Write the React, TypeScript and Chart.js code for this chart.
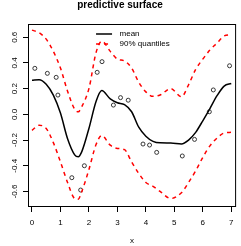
import React, { useEffect, useRef } from "react";
import { Chart, registerables } from "chart.js";

Chart.register(...registerables);

const titleText = "predictive surface";
const xTitle = "x";
const legendLabels = ["mean", "90% quantiles"];

const xGrid = [0, 0.25, 0.5, 0.75, 1, 1.25, 1.5, 1.625, 1.75, 2, 2.25, 2.45, 2.75, 3, 3.25, 3.5, 3.75, 4, 4.25, 4.5, 4.875, 5.25, 5.5, 5.75, 6, 6.25, 6.5, 6.75, 7];
const meanY = [0.265, 0.27, 0.235, 0.15, 0.01, -0.19, -0.315, -0.33, -0.29, -0.11, 0.1, 0.185, 0.12, 0.09, 0.075, 0.02, -0.1, -0.17, -0.21, -0.222, -0.223, -0.23, -0.2, -0.14, -0.05, 0.045, 0.145, 0.22, 0.24];
const upperY = [0.655, 0.635, 0.585, 0.49, 0.36, 0.18, 0.04, 0.02, 0.06, 0.2, 0.48, 0.57, 0.49, 0.43, 0.415, 0.36, 0.25, 0.175, 0.14, 0.15, 0.2, 0.137, 0.23, 0.35, 0.43, 0.5, 0.555, 0.61, 0.62];
const lowerY = [-0.125, -0.085, -0.11, -0.22, -0.37, -0.53, -0.655, -0.66, -0.6, -0.43, -0.235, -0.165, -0.24, -0.265, -0.275, -0.37, -0.46, -0.53, -0.56, -0.6, -0.655, -0.61, -0.53, -0.44, -0.335, -0.245, -0.185, -0.145, -0.14];

const obsX = [0.1, 0.54, 0.85, 0.91, 1.4, 1.71, 1.84, 2.29, 2.46, 2.86, 3.11, 3.38, 3.9, 4.13, 4.38, 5.28, 5.71, 6.23, 6.37, 6.94];
const obsY = [0.358, 0.319, 0.288, 0.15, -0.493, -0.589, -0.4, 0.327, 0.41, 0.072, 0.13, 0.11, -0.231, -0.239, -0.296, -0.324, -0.195, 0.02, 0.19, 0.378];

const xTicks = [0, 1, 2, 3, 4, 5, 6, 7];
const yTicks = [-0.6, -0.4, -0.2, 0, 0.2, 0.4, 0.6];

const FONT = '"Liberation Sans", Arial, Helvetica, sans-serif';

const fmtY = (v: number) => (Math.round(v * 10) / 10).toFixed(1);

const rPlugin = {
  id: "rstyle",
  afterDraw(chart: any) {
    const { ctx, chartArea } = chart;
    const { left, right, top, bottom } = chartArea;
    ctx.save();
    ctx.strokeStyle = "#000";
    ctx.lineWidth = 1;
    ctx.setLineDash([]);
    ctx.strokeRect(left + 0.5, top + 0.5, right - left - 1, bottom - top - 1);
    const ys = chart.scales.y;
    ctx.fillStyle = "#000";
    ctx.font = `8px ${FONT}`;
    ctx.textAlign = "center";
    ctx.textBaseline = "middle";
    ys.ticks.forEach((t: any) => {
      const py = ys.getPixelForValue(t.value);
      ctx.save();
      ctx.translate(ys.right - 13.5, py);
      ctx.rotate(-Math.PI / 2);
      ctx.fillText(fmtY(t.value), 0, 0);
      ctx.restore();
    });
    const cx = (left + right) / 2;
    const x0 = cx - 36;
    const rows = [top + 10, top + 20];
    const ds = chart.data.datasets;
    legendLabels.forEach((lab, i) => {
      const d = ds[i];
      const y = rows[i];
      ctx.strokeStyle = d.borderColor;
      ctx.lineWidth = d.borderWidth;
      ctx.setLineDash(d.borderDash || []);
      ctx.beginPath();
      ctx.moveTo(x0, y);
      ctx.lineTo(x0 + 16, y);
      ctx.stroke();
      ctx.setLineDash([]);
      ctx.fillStyle = "#000";
      ctx.textAlign = "left";
      ctx.textBaseline = "middle";
      ctx.fillText(lab, x0 + 23.5, y);
    });
    ctx.restore();
  },
};

export default function App() {
  const ref = useRef<HTMLCanvasElement | null>(null);
  useEffect(() => {
    document.body.style.margin = "0";
    const canvas = ref.current;
    if (!canvas) return;
    const toPts = (ys: number[]) => xGrid.map((x, i) => ({ x, y: ys[i] }));
    const chart = new Chart(canvas, {
      type: "scatter",
      data: {
        datasets: [
          {
            label: "mean",
            data: toPts(meanY),
            showLine: true,
            borderColor: "#000",
            borderWidth: 1.5,
            pointRadius: 0,
            cubicInterpolationMode: "monotone",
            fill: false,
          },
          {
            label: "90% quantiles",
            data: toPts(upperY),
            showLine: true,
            borderColor: "#ff0000",
            borderWidth: 1.5,
            borderDash: [4, 4],
            pointRadius: 0,
            cubicInterpolationMode: "monotone",
            fill: false,
          },
          {
            label: "lower",
            data: toPts(lowerY),
            showLine: true,
            borderColor: "#ff0000",
            borderWidth: 1.5,
            borderDash: [4, 4],
            pointRadius: 0,
            cubicInterpolationMode: "monotone",
            fill: false,
          },
          {
            label: "obs",
            data: obsX.map((x, i) => ({ x, y: obsY[i] })),
            showLine: false,
            pointRadius: 2,
            pointBorderWidth: 0.9,
            pointBorderColor: "#222",
            pointBackgroundColor: "rgba(0,0,0,0)",
          },
        ],
      } as any,
      options: {
        animation: false,
        responsive: false,
        devicePixelRatio: 1,
        layout: { padding: { left: 0, right: 1, top: 0, bottom: 0 } },
        plugins: {
          legend: { display: false },
          tooltip: { enabled: false },
          title: {
            display: true,
            text: titleText,
            color: "#000",
            font: { family: FONT, size: 10, weight: "bold", lineHeight: 1.0 },
            padding: { top: 0, bottom: 14 },
          },
        },
        scales: {
          x: {
            type: "linear",
            min: -0.14,
            max: 7.17,
            afterBuildTicks: (s: any) => {
              s.ticks = xTicks.map((v) => ({ value: v }));
            },
            afterFit: (s: any) => {
              s.height = 39;
            },
            ticks: {
              color: "#000",
              font: { family: FONT, size: 8 },
              padding: 6,
              maxRotation: 0,
              minRotation: 0,
              callback: (v: any) => String(v),
            },
            grid: {
              display: true,
              drawOnChartArea: false,
              drawTicks: true,
              tickLength: 5,
              color: "#000",
            },
            border: { display: false },
            title: {
              display: true,
              text: xTitle,
              color: "#000",
              font: { family: FONT, size: 8 },
              padding: 0,
            },
          },
          y: {
            type: "linear",
            min: -0.721,
            max: 0.703,
            afterBuildTicks: (s: any) => {
              s.ticks = yTicks.map((v) => ({ value: v }));
            },
            afterFit: (s: any) => {
              s.width = 28;
            },
            ticks: { display: false },
            grid: {
              display: true,
              drawOnChartArea: false,
              drawTicks: true,
              tickLength: 5,
              color: "#000",
            },
            border: { display: false },
          },
        },
      } as any,
      plugins: [rPlugin],
    });
    return () => chart.destroy();
  }, []);
  return (
    <div style={{ width: 241, height: 246 }}>
      <canvas ref={ref} width={241} height={246} style={{ display: "block" }} />
    </div>
  );
}
